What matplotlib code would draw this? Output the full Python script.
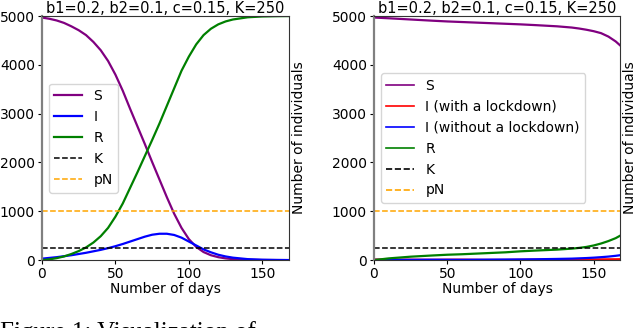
import matplotlib
matplotlib.use("Agg")
import matplotlib.pyplot as plt

# ---- data (days -> number of individuals) ----
days_a = [0, 5, 10, 15, 20, 25, 30, 35, 40, 45, 50, 55, 60, 65, 70, 75, 80, 85, 90, 95,
          100, 105, 110, 115, 120, 125, 130, 140, 150, 160, 168]
S_a = [4970, 4945, 4910, 4860, 4790, 4710, 4610, 4470, 4300, 4080, 3800, 3470, 3100, 2740,
       2380, 2010, 1650, 1290, 950, 660, 430, 270, 165, 100, 60, 35, 20, 7, 2, 1, 0]
I_a = [30, 45, 60, 80, 100, 125, 150, 180, 210, 245, 285, 330, 380, 430, 480, 520, 540,
       540, 515, 460, 380, 300, 220, 160, 110, 75, 50, 20, 8, 3, 1]
R_a = [0, 15, 40, 75, 125, 185, 260, 360, 490, 660, 890, 1160, 1480, 1800, 2130, 2460,
       2800, 3160, 3520, 3880, 4170, 4420, 4610, 4740, 4830, 4890, 4930, 4975, 4992, 4998, 5000]

days_b = [0, 10, 25, 40, 50, 60, 75, 90, 100, 110, 125, 135, 140, 145, 150, 155, 160, 165, 168]
S_b = [4970, 4955, 4930, 4905, 4890, 4878, 4860, 4842, 4830, 4815, 4790, 4765, 4745, 4720,
       4690, 4650, 4580, 4480, 4400]
I_lock_b = [12, 10, 8, 6, 8, 9, 4, 3, 6, 8, 10, 11, 12, 13, 14, 15, 16, 17, 18]
I_nolock_b = [4, 5, 6, 8, 7, 6, 9, 12, 14, 17, 24, 30, 36, 42, 50, 60, 72, 88, 100]
R_b = [0, 35, 70, 95, 110, 120, 140, 160, 180, 195, 215, 235, 250, 270, 300, 340, 390, 450, 500]

K = 250
pN = 1000
title = "b1=0.2, b2=0.1, c=0.15, K=250"

plt.rcParams["font.family"] = "DejaVu Sans"
plt.rcParams["font.size"] = 10

fig = plt.figure(figsize=(6.36, 3.28), dpi=100)
ax1 = fig.add_axes([0.066, 0.207, 0.388, 0.744])
ax2 = fig.add_axes([0.588, 0.207, 0.387, 0.744])


def style_axes(ax):
    ax.set_xlim(0, 168)
    ax.set_ylim(0, 5000)
    ax.set_xticks([0, 50, 100, 150])
    ax.set_yticks([0, 1000, 2000, 3000, 4000, 5000])
    ax.set_title(title, fontsize=10.5, pad=2)
    ax.set_xlabel("Number of days", labelpad=1)
    ax.yaxis.set_label_position("right")
    ax.set_ylabel("Number of individuals", labelpad=2)
    ax.tick_params(length=3, pad=2)
    ax.spines["left"].set_color("#808080")
    ax.spines["left"].set_linewidth(1.6)
    for s in ("top", "right", "bottom"):
        ax.spines[s].set_color("#333333")
        ax.spines[s].set_linewidth(0.8)


# left panel
ax1.plot(days_a, S_a, color="purple", lw=1.6, label="S")
ax1.plot(days_a, I_a, color="blue", lw=1.6, label="I")
ax1.plot(days_a, R_a, color="green", lw=1.6, label="R")
ax1.axhline(K, color="black", ls="--", lw=1.1, label="K")
ax1.axhline(pN, color="orange", ls="--", lw=1.1, label="pN")
style_axes(ax1)
ax1.legend(loc="center left", fontsize=10, handlelength=2.0, borderaxespad=0.5)

# right panel
ax2.plot(days_b, S_b, color="purple", lw=1.6, label="S")
ax2.plot(days_b, I_lock_b, color="red", lw=1.6, label="I (with a lockdown)")
ax2.plot(days_b, I_nolock_b, color="blue", lw=1.6, label="I (without a lockdown)")
ax2.plot(days_b, R_b, color="green", lw=1.6, label="R")
ax2.axhline(K, color="black", ls="--", lw=1.1, label="K")
ax2.axhline(pN, color="orange", ls="--", lw=1.1, label="pN")
style_axes(ax2)
leg = ax2.legend(loc="center left", fontsize=10, handlelength=2.0, borderaxespad=0.5)
for h in leg.get_lines():
    h.set_linewidth(1.2)

# caption of the source page, cut off at the bottom edge
fig.text(0.0, -0.035, "Figure 1: Visualization of", family="Liberation Serif",
         fontsize=18, ha="left", va="baseline")

fig.savefig("out.png", dpi=100)
